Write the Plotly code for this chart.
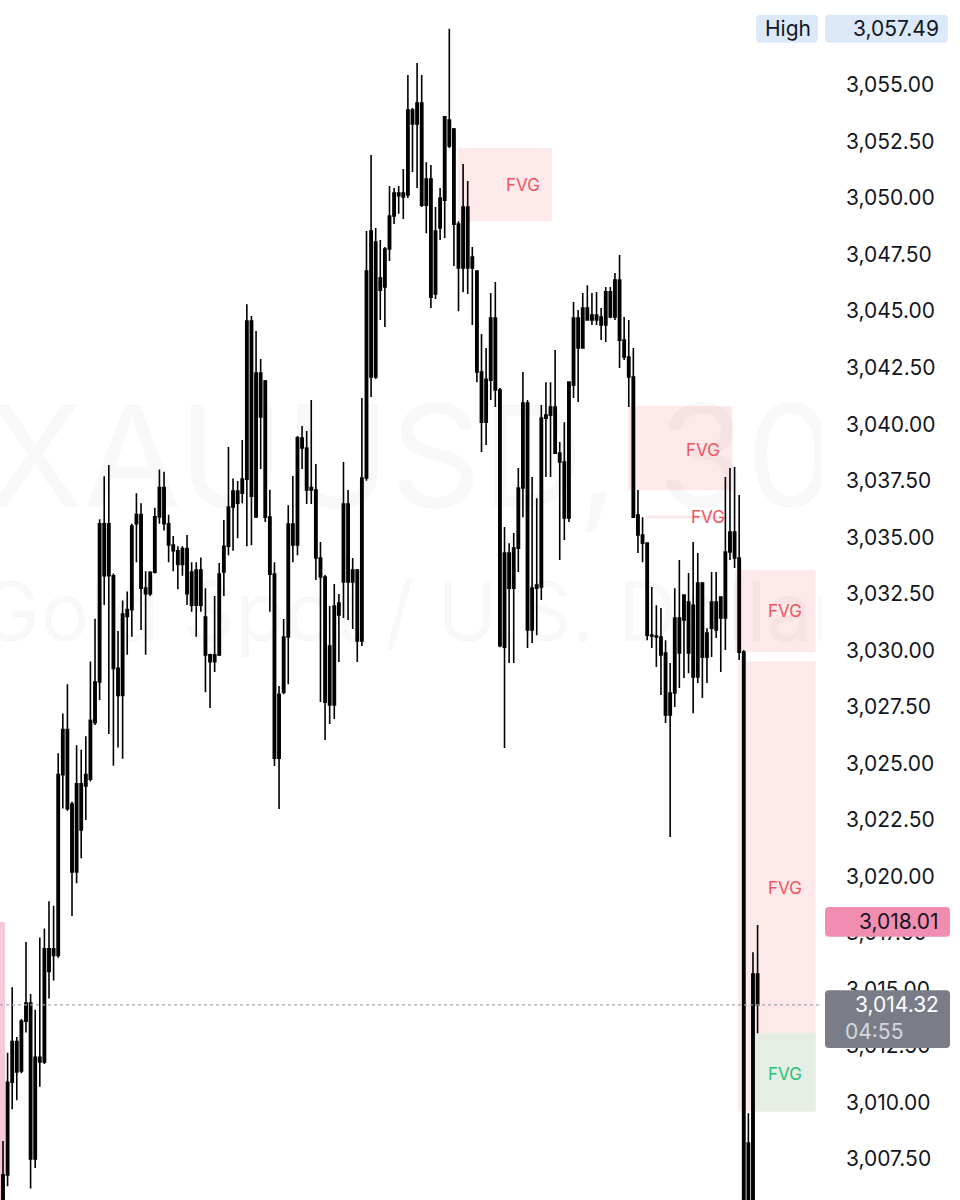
import plotly.graph_objects as go

# ---------------- data (XAUUSD 30-min candles, oldest -> newest) ----------------
opens = [
    3005.5, 3006.8, 3010.9, 3012.7, 3011.4, 3013.6, 3014.4, 3007.5, 3012.0, 3011.8,
    3016.8, 3016.5, 3016.5, 3024.5, 3026.5, 3023.2, 3020.2, 3024.1, 3024.0, 3024.3,
    3026.8,
    3028.6, 3035.6, 3033.3, 3033.3, 3029.2, 3028.0, 3031.5, 3031.8, 3035.6, 3036.0,
    3032.75, 3032.5, 3033.45, 3035.9, 3037.2, 3035.6, 3034.66, 3034.4, 3033.8, 3034.5,
    3033.46, 3032.0, 3033.55, 3031.47, 3029.8, 3029.5, 3029.8, 3033.46, 3034.6, 3036.34,
    3037.04, 3036.95, 3037.57, 3044.56, 3035.9, 3042.26, 3041.91, 3035.89, 3033.37, 3025.23,
    3028.15, 3030.59, 3035.58, 3034.66,
    3039.39, 3038.95, 3037.09, 3037.09, 3034.08, 3033.24, 3027.58, 3031.96, 3031.56, 3033.02,
    3036.47, 3033.02, 3033.55, 3030.41, 3037.62, 3042.09, 3048.06, 3045.93, 3046.07, 3047.75,
    3049.21, 3050.22, 3050.05, 3050.14, 3053.89, 3053.28, 3054.20, 3049.69, 3050.84, 3045.76,
    3048.68, 3049.91, 3053.45, 3053.05, 3048.85, 3046.91, 3049.6, 3046.91, 3046.77, 3042.31,
    3040.09,
    3041.95, 3044.69, 3041.51, 3030.14, 3034.30, 3032.75, 3034.52, 3037.18, 3040.94, 3030.90,
    3032.75, 3032.80, 3040.27, 3040.40, 3040.76, 3038.72, 3038.33, 3035.85, 3041.73, 3044.69,
    3043.37, 3045.14, 3044.61, 3044.83, 3044.74, 3044.39, 3045.85, 3044.74, 3046.38, 3043.72,
    3042.97, 3042.09, 3035.98, 3035.10, 3034.74,
    3030.67, 3030.63, 3030.59, 3029.88, 3027.14, 3028.11, 3031.43, 3031.34, 3032.13, 3028.82,
    3032.97, 3029.70, 3030.76, 3030.98, 3032.13, 3031.43, 3031.43, 3034.35, 3035.23, 3034.08,
    3029.92, 3004.5, 3005.0, 3015.68,
]
highs = [
    3008.3, 3012.2, 3015.1, 3012.9, 3013.7, 3017.1, 3014.8, 3014.1, 3017.3, 3017.7,
    3018.9, 3018.7, 3025.45, 3027.2, 3028.5, 3023.3, 3025.8, 3025.6, 3026.2, 3029.5,
    3031.4,
    3035.8, 3037.7, 3038.2, 3033.4, 3030.85, 3032.2, 3032.6, 3035.6, 3036.95, 3036.5,
    3033.5, 3033.5, 3036.3, 3038.0, 3037.9, 3036.0, 3035.05, 3034.6, 3034.6, 3035.1,
    3033.9, 3033.9, 3034.1, 3032.75, 3029.85, 3032.4, 3033.86, 3035.76, 3038.99, 3037.6,
    3037.49, 3039.3, 3045.31, 3044.78, 3044.12, 3042.88, 3041.95, 3037.1, 3033.9, 3028.42,
    3031.38, 3036.42, 3037.71, 3039.48,
    3039.92, 3039.7, 3041.07, 3038.24, 3034.79, 3033.33, 3031.96, 3032.93, 3032.49, 3038.33,
    3037.09, 3034.08, 3033.6, 3041.16, 3048.54, 3051.9, 3048.68, 3048.15, 3047.84, 3050.53,
    3050.45, 3050.53, 3051.29, 3055.44, 3053.98, 3055.97, 3055.44, 3051.59, 3051.46, 3049.60,
    3050.45, 3053.59, 3057.49, 3053.1, 3048.98, 3051.51, 3050.75, 3047.84, 3046.8, 3043.99,
    3043.37,
    3045.80, 3046.29, 3041.6, 3035.45, 3034.74, 3035.19, 3038.06, 3042.31, 3041.07, 3037.66,
    3036.73, 3040.85, 3041.86, 3041.86, 3043.28, 3039.21, 3040.09, 3041.86, 3045.40, 3045.05,
    3045.80, 3046.15, 3045.80, 3045.85, 3045.14, 3046.07, 3046.07, 3046.69, 3047.48, 3044.74,
    3044.61, 3043.37, 3037.09, 3035.89, 3034.74,
    3032.80, 3031.99, 3031.87, 3030.45, 3029.44, 3032.75, 3033.99, 3032.44, 3033.42, 3034.79,
    3034.30, 3033.02, 3030.98, 3033.46, 3033.46, 3032.35, 3037.66, 3038.06, 3038.11, 3036.87,
    3030.0, 3009.53, 3016.65, 3017.85,
]
lows = [
    3005.0, 3006.3, 3009.7, 3010.1, 3011.3, 3013.1, 3006.2, 3007.1, 3010.7, 3011.7,
    3014.6, 3015.4, 3016.4, 3023.0, 3022.9, 3018.25, 3019.7, 3020.8, 3022.5, 3024.2,
    3026.7,
    3027.8, 3032.0, 3026.3, 3024.9, 3025.7, 3025.2, 3029.8, 3030.6, 3033.9, 3030.9,
    3029.8, 3032.4, 3033.4, 3035.6, 3035.3, 3033.9, 3033.5, 3032.7, 3033.3, 3032.0,
    3031.7, 3030.6, 3031.7, 3028.15, 3027.45, 3029.04, 3029.75, 3032.4, 3034.2, 3034.4,
    3034.96, 3036.5, 3034.6, 3034.65, 3035.85, 3038.02, 3035.67, 3031.7, 3024.88, 3022.98,
    3028.06, 3028.5, 3033.9, 3034.2,
    3038.02, 3036.47, 3036.47, 3033.11, 3027.71, 3026.03, 3026.74, 3026.96, 3029.48, 3031.43,
    3031.34, 3030.94, 3029.48, 3030.19, 3037.5, 3041.2, 3042.0, 3044.61, 3044.30, 3047.22,
    3048.85, 3049.31, 3049.07, 3050.0, 3051.15, 3050.45, 3049.6, 3048.45, 3045.14, 3045.54,
    3048.15, 3048.23, 3052.21, 3047.0, 3045.0, 3045.84, 3045.76, 3044.39, 3041.86, 3038.77,
    3039.08,
    3041.07, 3040.76, 3030.14, 3025.68, 3029.44, 3029.44, 3033.46, 3035.89, 3030.10, 3030.32,
    3030.67, 3032.22, 3037.66, 3037.66, 3038.72, 3033.99, 3034.88, 3035.67, 3041.16, 3040.98,
    3043.37, 3044.61, 3044.39, 3044.39, 3043.72, 3043.63, 3044.69, 3044.61, 3042.48, 3042.84,
    3040.76, 3035.89, 3034.30, 3033.90, 3030.45,
    3030.10, 3029.26, 3028.02, 3026.78, 3021.74, 3027.49, 3028.33, 3028.77, 3028.99, 3027.22,
    3028.55, 3027.89, 3028.55, 3029.70, 3030.54, 3029.04, 3030.01, 3033.99, 3033.64, 3029.57,
    3003.0, 3003.5, 3004.2, 3013.07,
]
closes = [
    3006.8, 3010.9, 3012.7, 3011.35, 3013.6, 3014.4, 3007.5, 3012.0, 3011.8, 3016.8,
    3015.8, 3016.8, 3024.5, 3026.5, 3023.0, 3020.2, 3024.1, 3022.05, 3024.5, 3026.9,
    3028.6,
    3035.6, 3033.3, 3035.6, 3029.2, 3028.0, 3031.6, 3031.8, 3035.5, 3036.0, 3032.75,
    3032.5, 3033.45, 3035.9, 3037.2, 3035.6, 3034.66, 3034.4, 3033.8, 3034.5, 3032.5,
    3032.0, 3033.55, 3032.0, 3029.8, 3029.5, 3029.8, 3033.37, 3034.6, 3036.34, 3037.04,
    3036.51, 3037.57, 3044.56, 3036.82, 3042.26, 3040.32, 3035.89, 3033.37, 3025.23, 3028.06,
    3030.59, 3035.58, 3034.66, 3039.4,
    3038.95, 3037.09, 3037.2, 3034.08, 3033.24, 3027.71, 3030.19, 3027.58, 3032.09, 3036.47,
    3033.02, 3033.55, 3030.41, 3037.62, 3046.77, 3048.54, 3042.09, 3046.46, 3047.75, 3049.21,
    3050.22, 3050.10, 3050.22, 3053.89, 3053.28, 3054.20, 3049.69, 3050.84, 3045.62, 3048.54,
    3050.0, 3053.59, 3052.30, 3048.85, 3046.91, 3049.6, 3046.91, 3047.39, 3042.31, 3040.09,
    3041.99,
    3044.69, 3041.51, 3030.2, 3034.30, 3032.75, 3034.52, 3037.18, 3040.94, 3030.90, 3032.75,
    3032.89, 3040.27, 3040.40, 3040.76, 3038.72, 3038.33, 3035.85, 3041.86, 3044.69, 3043.37,
    3045.14, 3044.61, 3044.83, 3044.61, 3044.39, 3045.85, 3044.74, 3046.38, 3043.72, 3042.97,
    3042.09, 3035.89, 3035.10, 3034.74, 3030.67,
    3030.63, 3030.59, 3029.79, 3027.14, 3028.11, 3031.43, 3029.88, 3032.44, 3029.88, 3031.99,
    3028.82, 3032.97, 3029.70, 3032.13, 3030.90, 3032.35, 3034.35, 3035.23, 3034.08, 3029.92,
    3004.5, 3008.21, 3015.68, 3014.32,
]
bar_index = list(range(len(closes)))

# Fair value gap zones: (start bar, end bar, bottom price, top price, kind, label bar, label price)
fvg_start = [-5.0, 98.9, 135.9, 139.6, 159.1, 159.8, 163.5]
fvg_end = [0.45, 119.3, 158.5, 157.4, 176.6, 176.6, 176.6]
fvg_bottom = [3000.0, 3048.98, 3037.09, 3035.82, 3029.92, 3009.60, 3009.60]
fvg_top = [3017.98, 3052.21, 3040.80, 3035.96, 3033.55, 3029.52, 3013.07]
fvg_kind = ["left", "bear", "bear", "bear", "bear", "bear", "bull"]
fvg_label_x = [None, 113.0, 152.2, 153.2, 170.0, 170.0, 170.0]
fvg_label_y = [None, 3050.58, 3038.86, 3035.89, 3031.74, 3019.48, 3011.25]

# Price scale
tick_values = [3007.5, 3010.0, 3012.5, 3015.0, 3017.5, 3020.0, 3022.5, 3025.0, 3027.5,
               3030.0, 3032.5, 3035.0, 3037.5, 3040.0, 3042.5, 3045.0, 3047.5, 3050.0,
               3052.5, 3055.0]
tick_labels = [f"{v:,.2f}" for v in tick_values]
session_high = 3057.49
marker_price = 3018.01
last_price = 3014.32
countdown = "04:55"

symbol_text = "XAUUSD, 30"
description_text = "Gold Spot / U.S. Dollar"

FONT = "Inter, Roboto, Arial, sans-serif"
X_RANGE = [-0.65, 178.0]
Y_RANGE = [3005.69, 3058.76]
PLOT_W = 822.0
PX_PER_PRICE = 1200.0 / (Y_RANGE[1] - Y_RANGE[0])

fig = go.Figure()

# watermark (clipped to plot area)
fig.add_trace(go.Scatter(
    x=[88.7, 88.7], y=[3037.9, 3031.3], mode="text",
    text=[symbol_text, description_text],
    textfont=dict(family=FONT, size=[142, 82], color="rgba(30,34,45,0.03)"),
    textposition="middle center", cliponaxis=True, hoverinfo="skip", showlegend=False,
))

fig.add_trace(go.Candlestick(
    x=bar_index, open=opens, high=highs, low=lows, close=closes,
    increasing=dict(line=dict(color="#000000", width=1.6), fillcolor="#000000"),
    decreasing=dict(line=dict(color="#000000", width=1.6), fillcolor="#000000"),
    whiskerwidth=0, showlegend=False, hoverinfo="skip",
))

shapes = []
annotations = []
fill_map = {"left": "#f7c8da", "bear": "#fde9ea", "bull": "#e5ede4"}
text_map = {"bear": "#ef5561", "bull": "#27c27a"}
for s, e, b, t, k, lx, ly in zip(fvg_start, fvg_end, fvg_bottom, fvg_top, fvg_kind,
                                  fvg_label_x, fvg_label_y):
    shapes.append(dict(type="rect", xref="x", yref="y", x0=s, x1=e, y0=b, y1=t,
                       fillcolor=fill_map[k], line=dict(width=0), layer="below"))
    if lx is not None:
        annotations.append(dict(x=lx, y=ly, xref="x", yref="y", text="FVG", showarrow=False,
                                xanchor="center",
                                font=dict(family=FONT, size=17, color=text_map[k])))

# last price dotted line
shapes.append(dict(type="line", xref="paper", yref="y", x0=0, x1=1.0, y0=last_price,
                   y1=last_price, line=dict(color="#a3a6af", width=1.3, dash="dot"),
                   layer="above"))


def px(v):
    return v / PLOT_W


def rounded_box(x0p, x1p, y0, y1, color, r=4.0):
    """Rounded rectangle: x in pixels of the figure, y in price units."""
    rx = r / PLOT_W
    ry = r / PX_PER_PRICE
    a, b = px(x0p), px(x1p)
    path = (f"M {a + rx},{y1} L {b - rx},{y1} Q {b},{y1} {b},{y1 - ry} "
            f"L {b},{y0 + ry} Q {b},{y0} {b - rx},{y0} L {a + rx},{y0} "
            f"Q {a},{y0} {a},{y0 + ry} L {a},{y1 - ry} Q {a},{y1} {a + rx},{y1} Z")
    return dict(type="path", xref="paper", yref="y", path=path, fillcolor=color,
                line=dict(width=0), layer="above")


LABEL_FONT = dict(family=FONT, size=21, color="#131722")

# High label
shapes.append(rounded_box(756, 818, session_high - 0.62, session_high + 0.62, "#dce9f8"))
shapes.append(rounded_box(825, 948, session_high - 0.62, session_high + 0.62, "#dce9f8"))
annotations.append(dict(x=px(788), y=session_high, xref="paper", yref="y", text="High",
                        xanchor="center", showarrow=False, font=LABEL_FONT))
annotations.append(dict(x=px(941), y=session_high, xref="paper", yref="y",
                        text=f"{session_high:,.2f}", xanchor="right", showarrow=False,
                        font=LABEL_FONT))

# pink marker label
shapes.append(rounded_box(825, 950, marker_price - 0.68, marker_price + 0.64, "#f28db2"))
annotations.append(dict(x=px(941), y=marker_price, xref="paper", yref="y",
                        text=f"{marker_price:,.2f}", xanchor="right", showarrow=False,
                        font=LABEL_FONT))

# last price label with countdown
shapes.append(rounded_box(825, 950, 3012.41, 3014.97, "#7a7d88"))
annotations.append(dict(x=px(941), y=last_price, xref="paper", yref="y",
                        text=f"{last_price:,.2f}", xanchor="right", showarrow=False,
                        font=dict(family=FONT, size=21, color="#ffffff")))
annotations.append(dict(x=px(843), y=3013.15, xref="paper", yref="y", text=countdown,
                        xanchor="left", showarrow=False,
                        font=dict(family=FONT, size=21, color="#d6d8de")))

fig.update_layout(
    width=960, height=1200,
    margin=dict(l=0, r=138, t=0, b=0),
    paper_bgcolor="#ffffff", plot_bgcolor="#ffffff",
    showlegend=False,
    shapes=shapes, annotations=annotations,
    xaxis=dict(range=X_RANGE, visible=False, rangeslider=dict(visible=False),
               showgrid=False, zeroline=False, fixedrange=True),
    yaxis=dict(range=Y_RANGE, side="right", tickvals=tick_values, ticktext=tick_labels,
               showgrid=False, zeroline=False, showline=False, ticks="",
               ticklabelstandoff=23,
               tickfont=LABEL_FONT),
    boxgap=0.3, boxgroupgap=0.3,
)

fig.write_html("out.html", config={"displayModeBar": False},
               post_script="document.body.style.margin='0';document.body.style.overflow='hidden';")
